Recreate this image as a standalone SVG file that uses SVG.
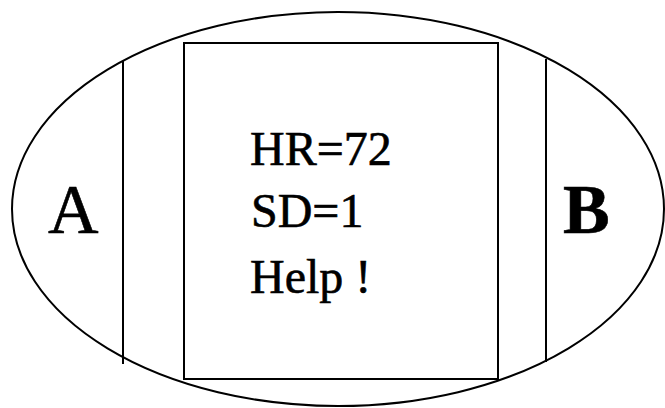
<svg xmlns="http://www.w3.org/2000/svg" width="665" height="408" viewBox="0 0 665 408">
<style>
.ln{fill:none;stroke:#000;stroke-width:2}
.t{font-family:"Liberation Serif","Times New Roman",serif;fill:#000;stroke:#000;stroke-width:0.6}
.m{font-size:48px}
.s{font-size:70px}
</style>
<rect width="665" height="408" fill="#fff"/>
<g id="outer"><ellipse class="ln" cx="338" cy="209" rx="326" ry="197"/></g>
<g id="connectors">
<line class="ln" x1="123" y1="61" x2="123" y2="364"/>
<line class="ln" x1="546" y1="59" x2="546" y2="362"/>
</g>
<g id="A"><text class="t s" x="48" y="233">A</text></g>
<g id="B"><text class="t s" x="563" y="233" font-weight="bold">B</text></g>
<g id="box">
<rect class="ln" x="184" y="43" width="314" height="336" stroke-width="2.5"/>
<text class="t m" x="250" y="165">HR=72</text>
<text class="t m" x="251" y="227">SD=1</text>
<text class="t m" x="250" y="293">Help !</text>
</g>
</svg>
